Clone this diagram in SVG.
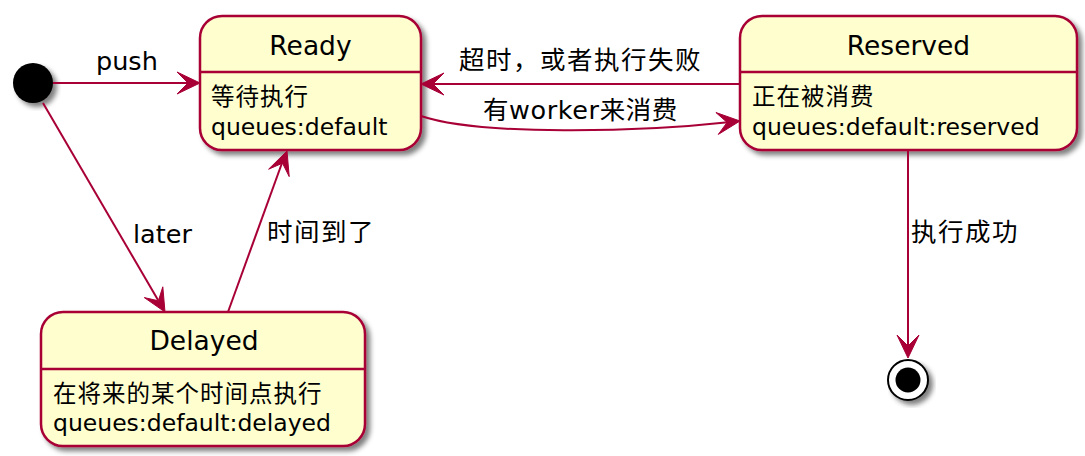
<svg xmlns="http://www.w3.org/2000/svg" width="1085" height="456" viewBox="0 0 1085 456">
<defs>
<filter id="sh" x="-10%" y="-10%" width="130%" height="130%">
<feGaussianBlur in="SourceAlpha" stdDeviation="2.5"/>
<feOffset dx="4" dy="4" result="b"/>
<feFlood flood-color="#000" flood-opacity="0.5"/>
<feComposite in2="b" operator="in"/>
<feMerge><feMergeNode/><feMergeNode in="SourceGraphic"/></feMerge>
</filter>
<style>
.box{fill:#FEFECE;stroke:#A80036;stroke-width:2.5}
.sep{stroke:#A80036;stroke-width:2.5}
.ln{fill:none;stroke:#A80036;stroke-width:2}
.ah{fill:#A80036;stroke:#A80036;stroke-width:1}
.t{font-family:"DejaVu Sans","Noto Sans CJK SC",sans-serif;fill:#000}
.title{font-size:26.5px;text-anchor:middle}
.body{font-size:23.5px}
.cjk{letter-spacing:1px}
.lbl{font-size:25.5px}
.lcjk{letter-spacing:1.5px}
</style>
</defs>

<g id="start">
<circle cx="33" cy="83" r="20" fill="#000" filter="url(#sh)"/>
</g>

<g id="ready">
<rect class="box" x="200" y="16" width="221" height="134" rx="22" filter="url(#sh)"/>
<line class="sep" x1="200" y1="72" x2="421" y2="72"/>
<text class="t title" x="310.5" y="55">Ready</text>
<text class="t body cjk" x="211" y="105">等待执行</text>
<text class="t body" x="211" y="135">queues:default</text>
</g>

<g id="reserved">
<rect class="box" x="740" y="16" width="337" height="134" rx="22" filter="url(#sh)"/>
<line class="sep" x1="740" y1="72" x2="1077" y2="72"/>
<text class="t title" x="908.5" y="55">Reserved</text>
<text class="t body cjk" x="752" y="105">正在被消费</text>
<text class="t body" x="752" y="135">queues:default:reserved</text>
</g>

<g id="delayed">
<rect class="box" x="41" y="312" width="324" height="134" rx="22" filter="url(#sh)"/>
<line class="sep" x1="41" y1="369" x2="365" y2="369"/>
<text class="t title" x="204" y="350">Delayed</text>
<text class="t body cjk" x="53" y="402">在将来的某个时间点执行</text>
<text class="t body" x="53" y="431">queues:default:delayed</text>
</g>

<g id="end">
<circle cx="908" cy="380" r="20" fill="#fff" stroke="#000" stroke-width="2" filter="url(#sh)"/>
<circle cx="908" cy="380" r="12.5" fill="#000"/>
</g>

<g id="connectors">
<path class="ln" d="M53,83 L190,83"/>
<polygon class="ah" points="200,83 177,72 188,83 177,94"/>
<text class="t lbl" x="96" y="70">push</text>

<path class="ln" d="M43,103 L158,300"/>
<polygon class="ah" points="165,312 144.3,297.6 158.4,300.8 162.8,286.8"/>
<text class="t lbl" x="133" y="243">later</text>

<path class="ln" d="M228,312 L282,163"/>
<polygon class="ah" points="287,151 289.2,176.6 282.5,163.2 268.6,169.2"/>
<text class="t lbl lcjk" x="267" y="241">时间到了</text>

<path class="ln" d="M740,84 L431,84"/>
<polygon class="ah" points="421,84 444,73 433,84 444,95"/>
<text class="t lbl lcjk" x="459" y="69">超时，或者执行失败</text>

<path class="ln" d="M421,116 C480,136 640,132 728,122.3"/>
<polygon class="ah" points="740,121 715.9,112.5 727.1,122.4 718.3,134.4"/>
<text class="t lbl" x="483" y="119" letter-spacing="0.6">有worker来消费</text>

<path class="ln" d="M908,150 L908,346"/>
<polygon class="ah" points="908,358 897,335 908,346 919,335"/>
<text class="t lbl lcjk" x="911" y="241">执行成功</text>
</g>
</svg>
